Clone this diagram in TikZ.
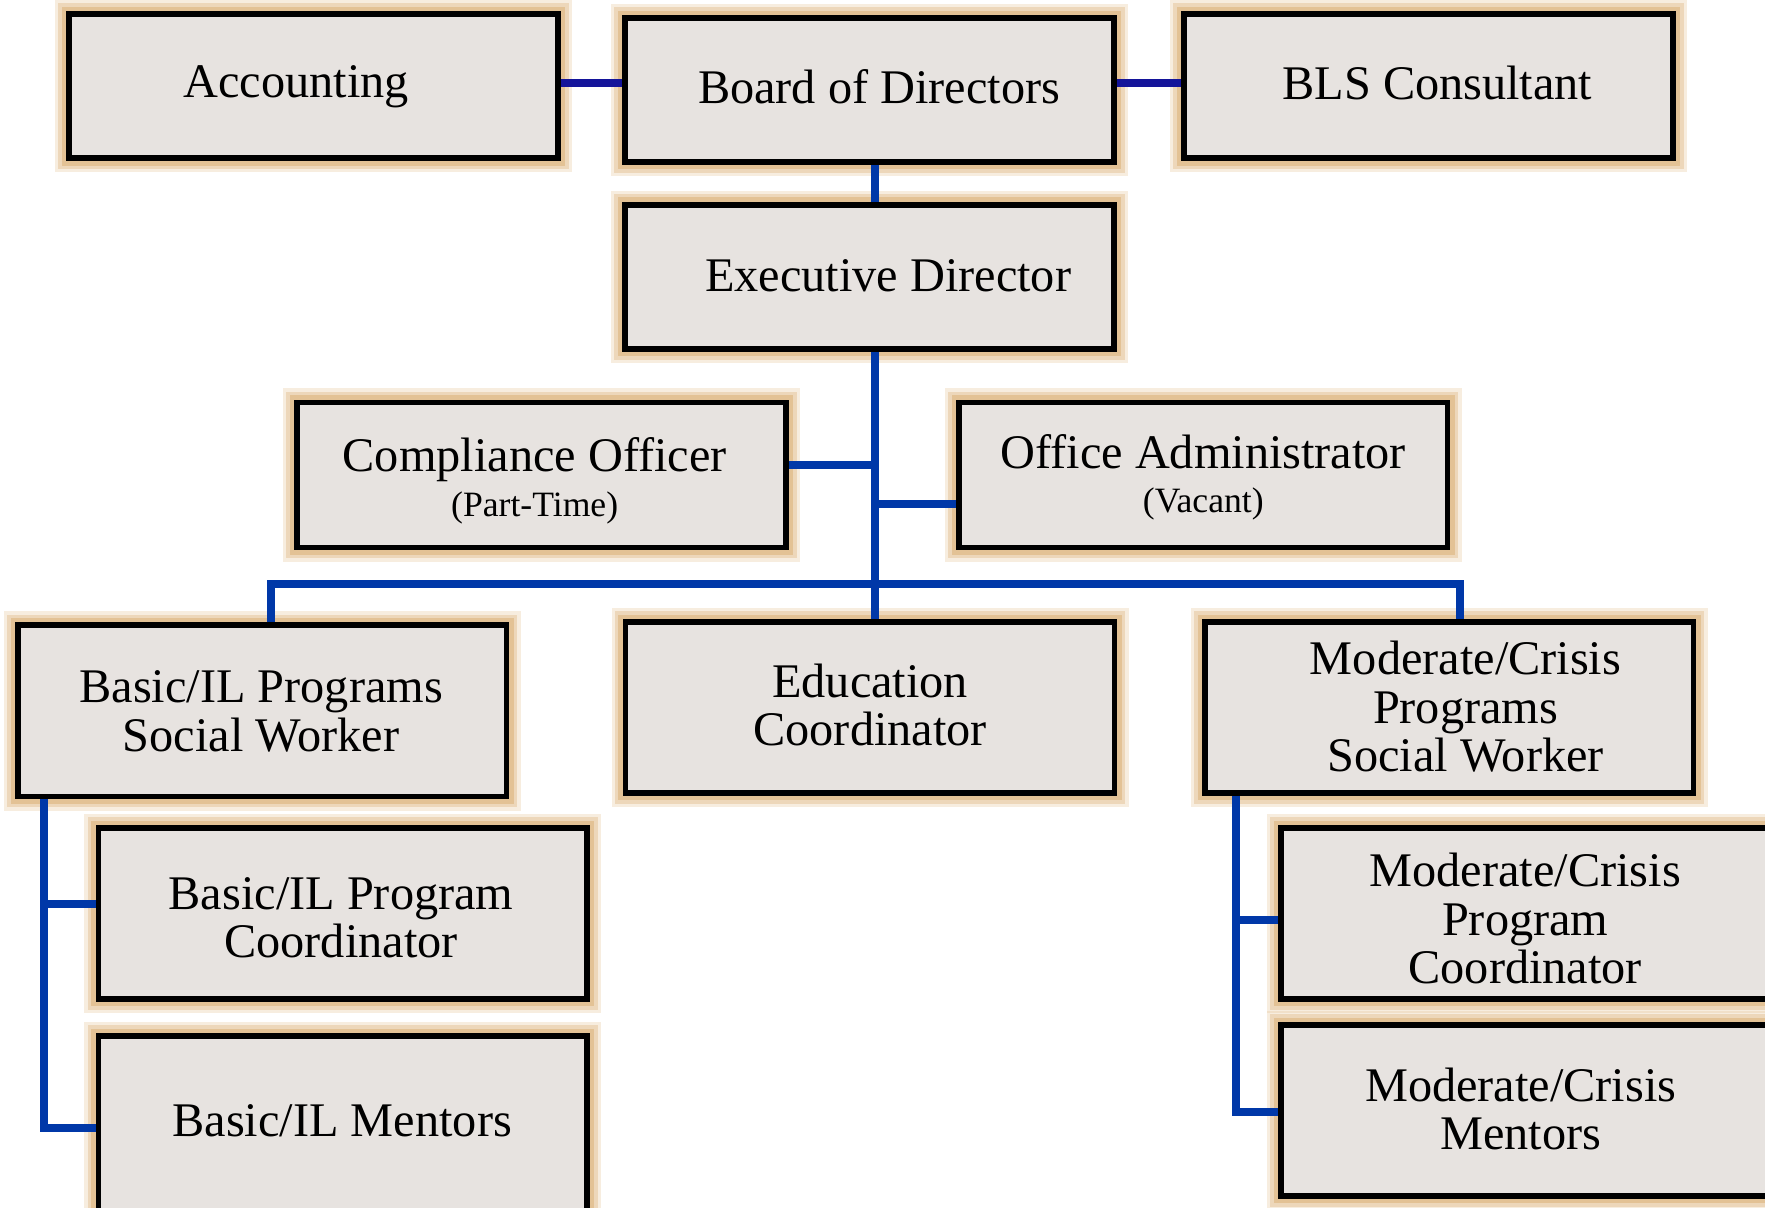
\documentclass[tikz,border=0pt]{standalone}
\usepackage{fontspec}
\setmainfont{Liberation Serif}
\definecolor{boxfill}{HTML}{E7E3E0}
\definecolor{glow}{HTML}{E3C295}
\definecolor{navy}{HTML}{14149A}
\definecolor{link}{HTML}{0038A8}
\begin{document}
\begin{tikzpicture}
        [x=0.01cm, y=-0.01cm,
        box/.style={rectangle, draw, line width=1.4pt, fill=boxfill, minimum width=4.34cm, inner sep=0pt,
            preaction={draw=glow, line width=0.25cm, opacity=0.3},
            preaction={draw=glow, line width=0.19cm, opacity=0.5},
            preaction={draw=glow, line width=0.13cm, opacity=1}},
        boxTop/.style={box, minimum height=1.28cm},
        boxLow/.style={box, minimum height=1.52cm},
        txt/.style={align=center, font=\fontsize{12.2}{12.2}\selectfont},
        small/.style={font=\fontsize{9.4}{10}\selectfont},
        wire/.style={line width=2pt, draw=link},
        wireTop/.style={line width=2pt, draw=navy}]
        \clip (0,0) rectangle (1568,1073);
        % top row
        \node[boxTop] (acct) at (278.5,76.5) {};
        \node[boxTop] (board) at (772.5,80) {};
        \node[boxTop] (bls) at (1269,76.5) {};
        \node[boxTop] (exec) at (772.5,246) {};
        \node[txt] at (263,77) {Accounting};
        \node[txt] at (781,77) {Board of Directors};
        \node[txt] at (1277,74) {BLS Consultant};
        \node[txt] at (789,245) {Executive Director};
        % staff
        \node[boxTop, minimum height=1.29cm] (comp) at (481,422) {};
        \node[boxTop, minimum height=1.29cm] (office) at (1069,422) {};
        \node[txt] at (475,427) {Compliance Officer\\[-1pt]{\small (Part-Time)}};
        \node[txt] at (1069,424) {Office Administrator\\[-1pt]{\small (Vacant)}};
        % programs
        \node[boxLow] (basicSW) at (233,631.5) {};
        \node[boxLow] (edu) at (773,628.5) {};
        \node[boxLow] (modSW) at (1287.5,628.5) {};
        \node[txt] at (232,632) {Basic/IL Programs\\Social Worker};
        \node[txt] at (773,626) {Education\\Coordinator};
        \node[txt] at (1302,628) {Moderate/Crisis\\Programs\\Social Worker};
        \node[boxLow] (basicCoord) at (304.5,811.5) {};
        \node[boxLow, minimum height=1.57cm] (basicMent) at (304.5,999) {};
        \node[boxLow] (modCoord) at (1355,811.5) {};
        \node[boxLow] (modMent) at (1355,986.5) {};
        \node[txt] at (303,815) {Basic/IL Program\\Coordinator};
        \node[txt] at (304,996) {Basic/IL Mentors};
        \node[txt] at (1355,816) {Moderate/Crisis\\Program\\Coordinator};
        \node[txt] at (1351,985) {Moderate/Crisis\\Mentors};

        \coordinate (trunk) at (777,519);
        \coordinate (leftDrop) at (39,1002);
        \coordinate (rightDrop) at (1098,988);

        \draw[wireTop] (acct.east |- 0,74) -- (board.west |- 0,74);
        \draw[wireTop] (board.east |- 0,74) -- (bls.west |- 0,74);
        \draw[wire] (board.south -| trunk) -- (exec.north -| trunk);
        \draw[wire] (exec.south -| trunk) -- (edu.north -| trunk);
        \draw[wire] (comp.east |- 0,413) -- (trunk |- 0,413);
        \draw[wire] (trunk |- 0,448) -- (office.west |- 0,448);
        \draw[wire] (basicSW.north -| 241,0) -- (241,519) -- (1297,519) -- (modSW.north -| 1297,0);
        \draw[wire] (basicSW.south -| leftDrop) -- (leftDrop) -- (basicMent.west |- leftDrop);
        \draw[wire] (leftDrop |- 0,803) -- (basicCoord.west |- 0,803);
        \draw[wire] (modSW.south -| rightDrop) -- (rightDrop) -- (modMent.west |- rightDrop);
        \draw[wire] (rightDrop |- 0,817) -- (modCoord.west |- 0,817);
    \end{tikzpicture}
\end{document}
